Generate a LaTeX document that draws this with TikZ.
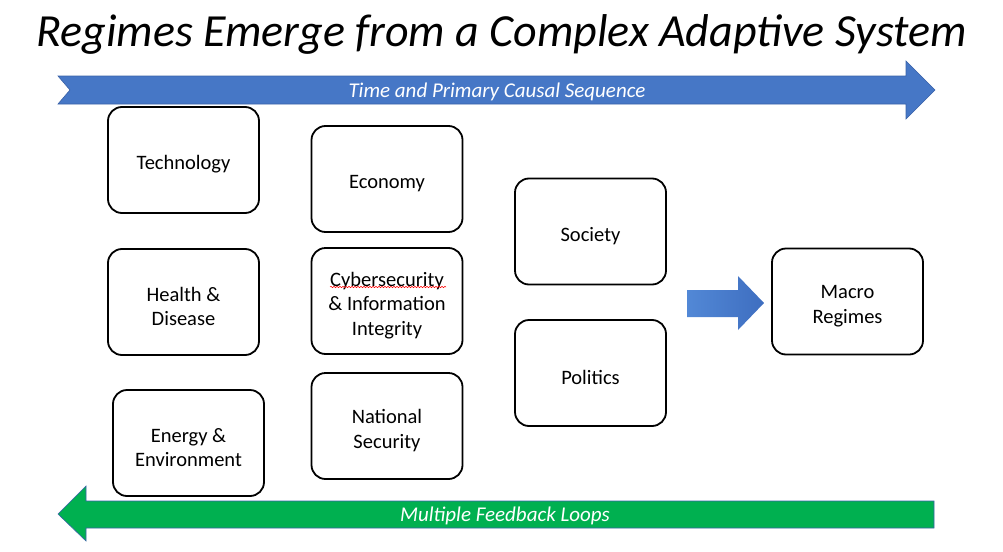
\documentclass[tikz,border=0pt]{standalone}
\usepackage{fontspec}
\setmainfont{Carlito}
\usetikzlibrary{decorations.pathmorphing}
\definecolor{arrowblue}{HTML}{4677C6}
\definecolor{arrowedge}{HTML}{3A62A8}
\definecolor{arrowgreen}{HTML}{00B050}
\definecolor{blockL}{HTML}{5288D6}
\definecolor{blockR}{HTML}{3E6EC0}
\newcommand{\tl}{\rule{0pt}{23pt}}
\tikzset{
  boxnode/.style={draw=black, line width=1.8pt, rounded corners=14pt, fill=white,
    minimum width=151pt, minimum height=106pt, align=center, inner sep=2pt,
    font=\fontsize{20.5}{24.5}\selectfont},
  arrowlabel/.style={text=white, font=\fontsize{21}{24}\selectfont\itshape},
}
\begin{document}
\begin{tikzpicture}[x=1pt,y=-1pt]
\useasboundingbox (0,0) rectangle (1003,551);

% title
\node[font=\fontsize{46}{52}\selectfont\itshape, anchor=base] (title) at (501.5,47) {Regimes Emerge from a Complex Adaptive System};

% top arrow
\fill[arrowblue, draw=arrowedge, line width=0.6pt]
  (58,76) -- (906,76) -- (906,61) -- (935,90) -- (906,119) -- (906,104) -- (58,104) -- (70,90) -- cycle;
\node[arrowlabel] (toplabel) at (497,92) {Time and Primary Causal Sequence};

% bottom arrow
\fill[arrowgreen, draw=arrowedge, line width=0.6pt]
  (934,501) -- (86,501) -- (86,486) -- (58,514) -- (86,541) -- (86,528) -- (934,528) -- cycle;
\node[arrowlabel] (botlabel) at (505,516) {Multiple Feedback Loops};

% boxes
\node[boxnode] (tech) at (183.5,160) {\tl Technology};
\node[boxnode] (econ) at (387,179) {\tl Economy};
\node[boxnode] (health) at (183.5,302) {\tl Health \&\\Disease};
\node[boxnode] (cyber) at (387,301) {\tl Cybersecurity\\\& Information\\Integrity};
\node[boxnode] (energy) at (188.5,443) {\tl Energy \&\\Environment};
\node[boxnode] (natsec) at (387,426) {\tl National\\Security};
\node[boxnode] (society) at (590.5,231.5) {\tl Society};
\node[boxnode] (politics) at (590.5,373) {\tl Politics};
\node[boxnode] (macro) at (847.5,301.5) {\tl Macro\\Regimes};

% spell-check squiggle
\draw[red, line width=0.5pt, decorate, decoration={snake, segment length=3pt, amplitude=0.7pt}]
  (330,287) -- (446,287);

% block arrow
\shade[left color=blockL, right color=blockR]
  (687,290) -- (738,290) -- (738,276) -- (764,303) -- (738,330) -- (738,317) -- (687,317) -- cycle;
\end{tikzpicture}
\end{document}
